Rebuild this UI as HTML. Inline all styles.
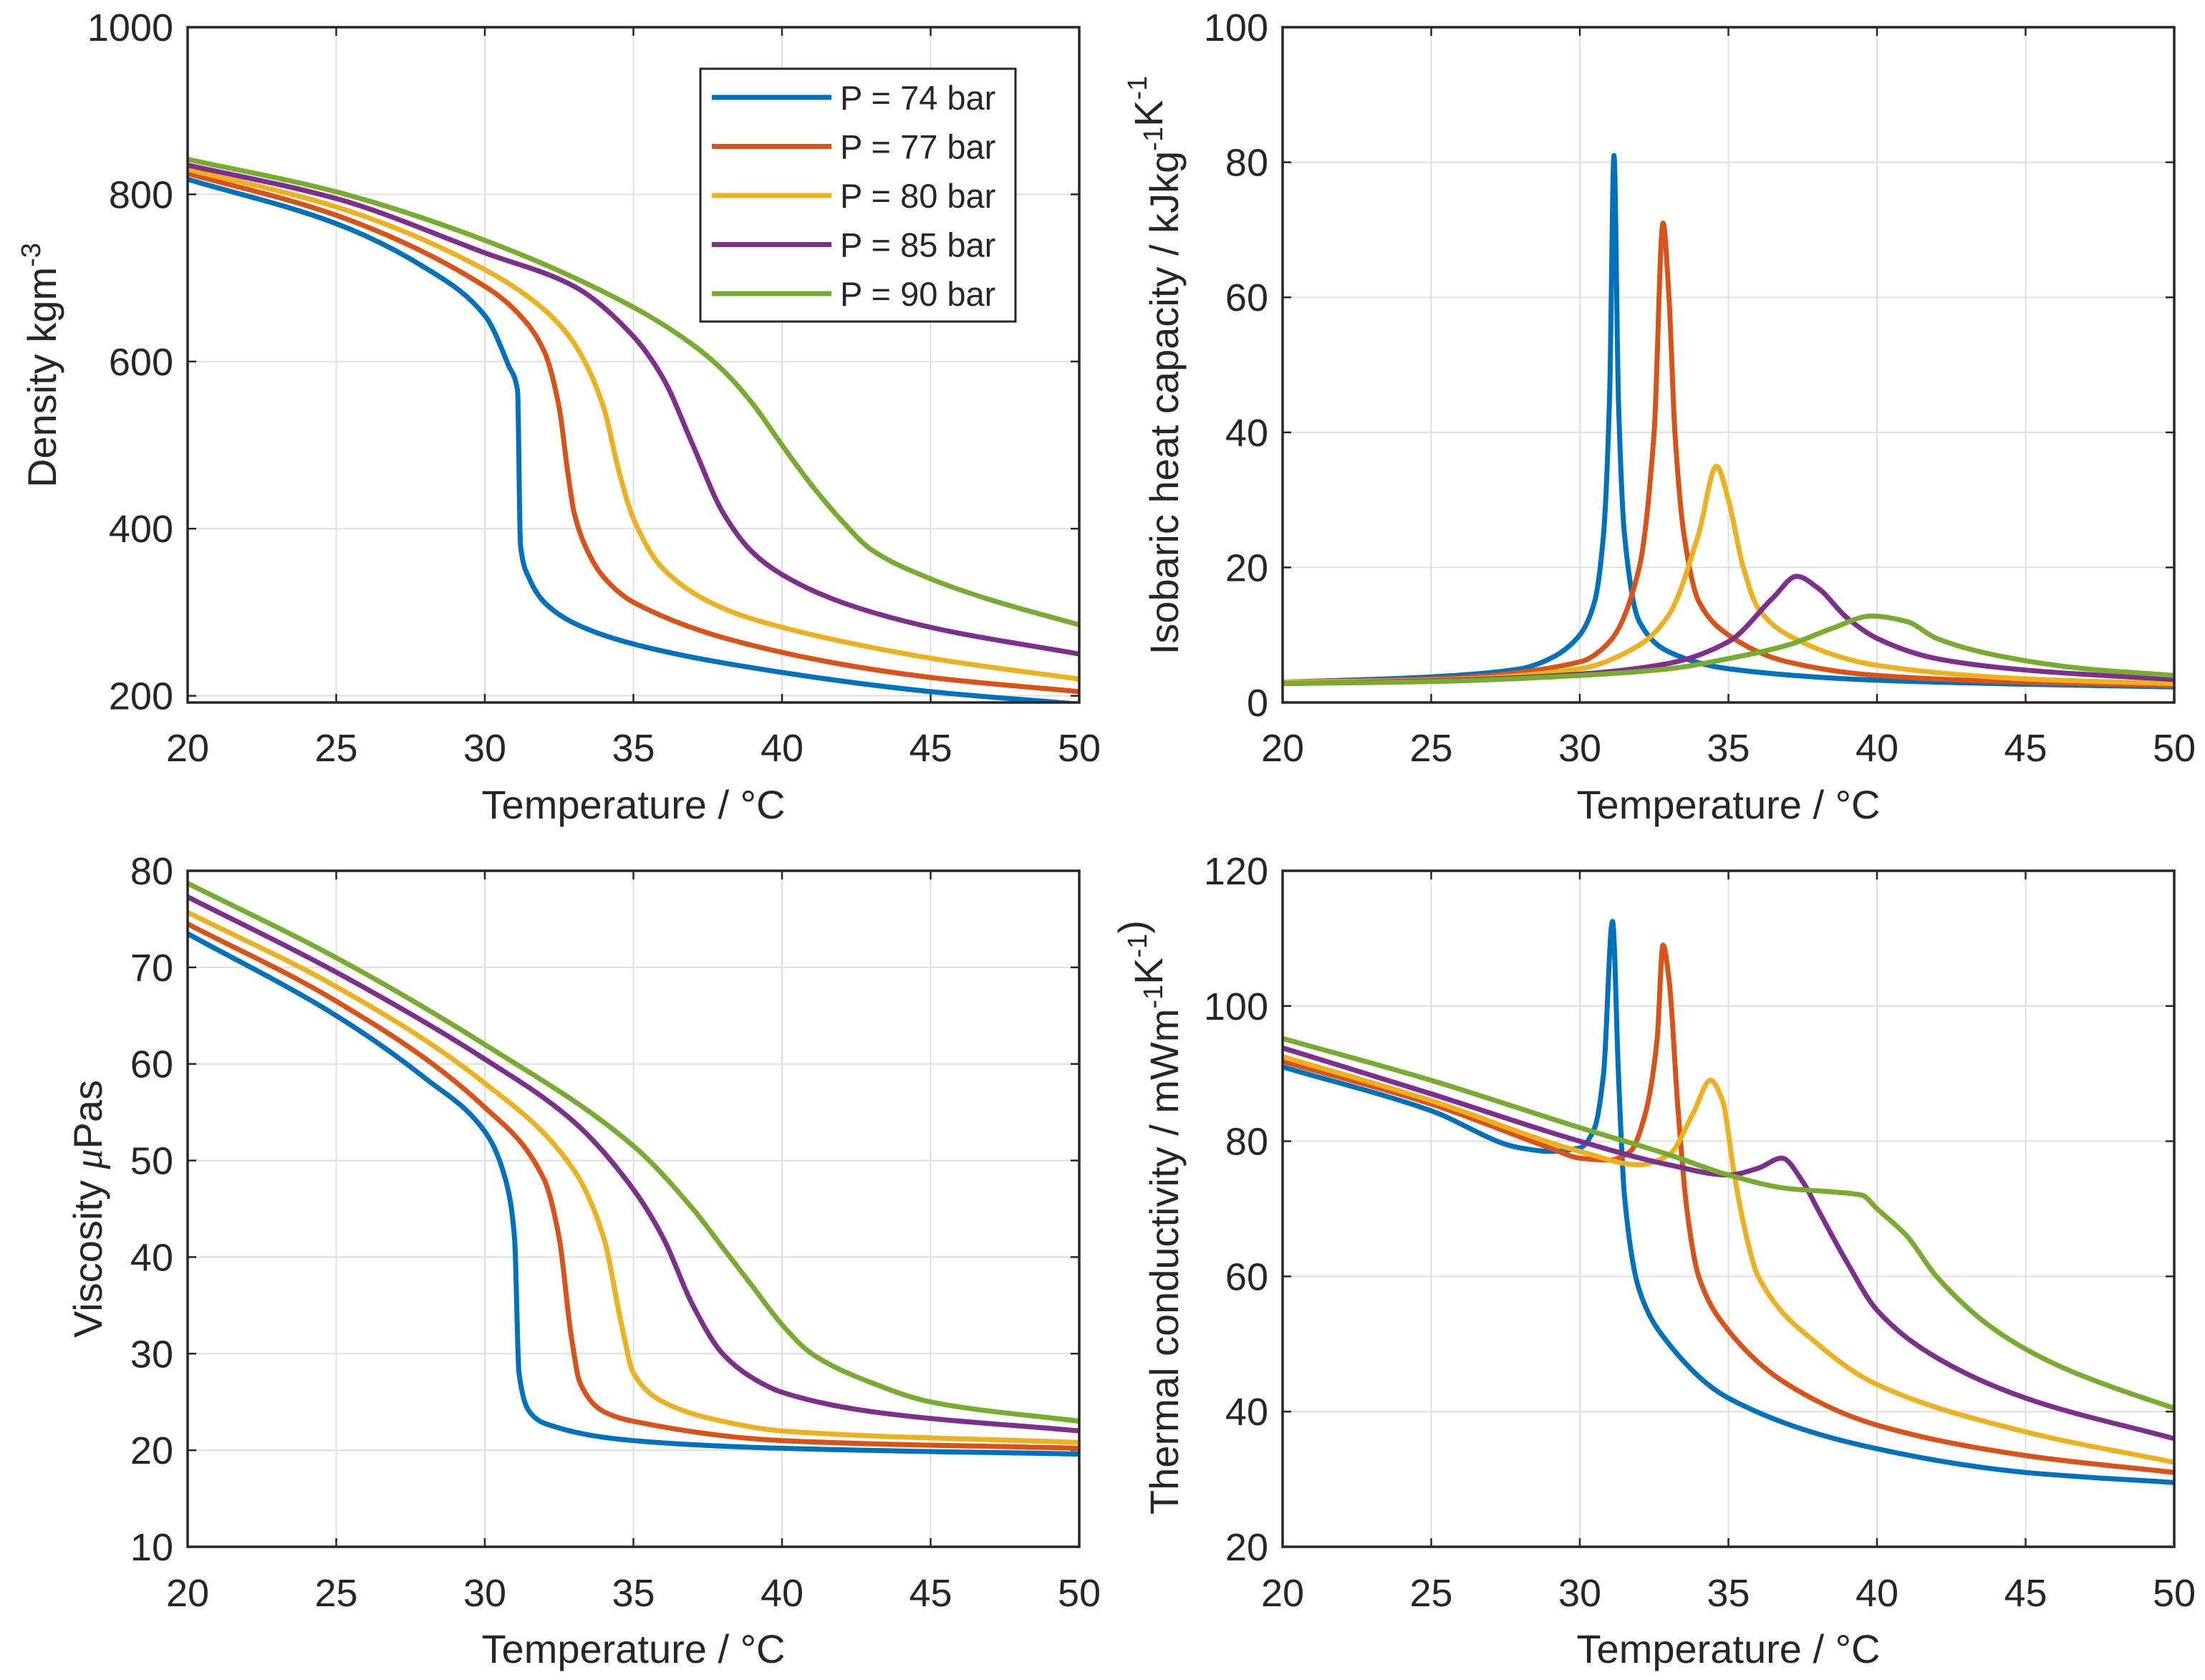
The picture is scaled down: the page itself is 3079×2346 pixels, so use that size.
<!DOCTYPE html>
<html><head><meta charset="utf-8"><style>
html,body{margin:0;padding:0;background:#fff}
svg{display:block}
text{font-family:"Liberation Sans",sans-serif;fill:#262626}
</style></head><body>
<svg id="fig" width="3079" height="2346" viewBox="0 0 3079 2346" xmlns="http://www.w3.org/2000/svg"></svg>
<script>
const seriesNames = ["P = 74 bar","P = 77 bar","P = 80 bar","P = 85 bar","P = 90 bar"];
const seriesColors = ["#0072BD","#D95319","#EDB120","#7E2F8E","#77AC30"];
const xTicks = [20,25,30,35,40,45,50];

const densT74 = [20,25,28,30,30.8,31.1,31.2,31.5,32,33,35,40,45,50];
const densV74 = [818,765,712,655,595,565,380,340,312,287,262,228,205,190];
const densT77 = [20,25,30,31,32,32.5,32.8,33,33.5,34,35,40,45,50];
const densV77 = [825,775,690,662,612,545,465,420,370,342,312,252,222,205];
const densT80 = [20,25,30,32,33,34,34.5,35,36,38,40,45,50];
const densV80 = [830,785,710,662,622,545,470,412,352,305,282,245,220];
const densT85 = [20,25,30,33,35,36,37,38,39,40,42,45,50];
const densV85 = [835,795,730,690,630,580,500,420,372,345,312,282,250];
const densT90 = [20,25,30,35,37,38,39,40,41,42,43,45,47,50];
const densV90 = [842,803,745,665,620,590,550,500,452,410,375,340,315,285];

const cpT74 = [20,25,28,29,30,30.5,30.8,31,31.15,31.3,31.5,32,33,35,40,45,50];
const cpV74 = [3,3.8,5,6.5,10,15,25,45,81,45,25,12,7.5,5,3.3,2.7,2.3];
const cpT77 = [20,25,30,31,32,32.5,32.8,33,33.2,33.5,34,35,37,40,45,50];
const cpV77 = [3,3.5,6,9,20,40,71,60,40,25,15,10,6,4,3,2.5];
const cpT80 = [20,25,30,32,33,34,34.6,35,35.5,36,37,40,45,50];
const cpV80 = [3,3.3,5,8.5,13,25,35,30,20,14,10,5.5,3.5,2.8];
const cpT85 = [20,25,30,33,35,36.5,37.3,38,39,40,42,45,50];
const cpV85 = [2.8,3.2,4.2,5.8,9,15.5,18.7,17,12.5,9.5,6.5,4.8,3.4];
const cpT90 = [20,25,30,33,35,37,38.5,39.8,41,42,44,47,50];
const cpV90 = [2.8,3.1,4,5,6.5,8.5,11,12.8,12,9.5,7,5,4];

const visT74 = [20,25,28,30,30.7,31,31.15,31.5,32,35,40,50];
const visV74 = [73.5,65,58.5,53,48,42,28,24,22.8,21,20.2,19.6];
const visT77 = [20,25,30,32,32.5,32.9,33.2,34,35,40,50];
const visV77 = [74.5,66.5,55.5,48,42,32,27,24,23,21,20.2];
const visT80 = [20,25,30,33,34,34.6,35,36,38,40,50];
const visV80 = [75.7,68,58,49,42,33,28,25,23,22,20.8];
const visT85 = [20,25,30,33,35,36,37,38,39,40,43,50];
const visV85 = [77.3,69.5,60.5,54,47,42,35,30,27.5,26,24,22];
const visT90 = [20,25,30,35,37,38,39,40,41,43,45,50];
const visV90 = [78.7,71,62,51.5,45,41,37,33,30,27,25,23];

const tcT74 = [20,25,28,29,30,30.5,30.8,31.1,31.3,31.5,32,33,35,40,45,50];
const tcV74 = [91,84.5,79,78.5,79,82,90,112.5,90,72,58,50,42,34.5,31,29.5];
const tcT77 = [20,25,29,30,31,31.7,32.2,32.6,32.8,33,33.3,33.6,34,35,37,40,45,50];
const tcV77 = [91.8,85.5,79,77.5,77.2,78.5,84,95,109,104,85,70,60,52,44,38,33.5,31];
const tcT80 = [20,25,30,32,33,33.8,34.4,34.8,35.2,35.6,36,38,40,45,50];
const tcV80 = [92.5,86,78.5,76.5,78,84,89,86,75,66,60,50,44,37,32.5];
const tcT85 = [20,25,30,33,35,36,36.8,37.5,38,39,40,42,45,50];
const tcV85 = [93.8,87,80,76.5,75,76,77.5,74,70,62,55,48,42,36];
const tcT90 = [20,25,30,33,35,37,38.5,39.5,40,41,42,44,46,48,50];
const tcV90 = [95.2,89,82,78,75,73,72.5,72,70,66,60,52,47,43.5,40.5];

const densTicks = [200,400,600,800,1000];
const cpTicks = [0,20,40,60,80,100];
const visTicks = [10,20,30,40,50,60,70,80];
const tcTicks = [20,40,60,80,100,120];

const NS = "http://www.w3.org/2000/svg";
const svg = document.getElementById('fig');
function mk(tag, attrs, parent){
  const e = document.createElementNS(NS, tag);
  for (const k in attrs) e.setAttribute(k, attrs[k]);
  (parent||svg).appendChild(e);
  return e;
}
function monoPath(px, py){
  const n = px.length;
  const d = [], m = new Array(n);
  for (let i=0;i<n-1;i++) d.push((py[i+1]-py[i])/(px[i+1]-px[i]));
  m[0]=d[0]; m[n-1]=d[n-2];
  for (let i=1;i<n-1;i++){
    if (d[i-1]*d[i] <= 0) m[i]=0;
    else { const w1=2*(px[i+1]-px[i])+(px[i]-px[i-1]), w2=(px[i+1]-px[i])+2*(px[i]-px[i-1]);
      m[i]=(w1+w2)/(w1/d[i-1]+w2/d[i]); }
  }
  let s = "M"+px[0].toFixed(1)+","+py[0].toFixed(1);
  for (let i=0;i<n-1;i++){
    const h=(px[i+1]-px[i])/3;
    s += " C"+(px[i]+h).toFixed(1)+","+(py[i]+m[i]*h).toFixed(1)+" "+(px[i+1]-h).toFixed(1)+","+(py[i+1]-m[i+1]*h).toFixed(1)+" "+px[i+1].toFixed(1)+","+py[i+1].toFixed(1);
  }
  return s;
}
function panel(cfg){
  const g = mk('g', {});
  
  
  const L=cfg.x0, R=cfg.x1, T=cfg.y0, B=cfg.y1;
  const sx = v => L + (v-20)/(50-20)*(R-L);
  const sy = v => B - (v-cfg.ymin)/(cfg.ymax-cfg.ymin)*(B-T);
  mk('rect',{x:L,y:T,width:R-L,height:B-T,fill:'#fff'},g);
  const grid = mk('g',{},g);
  
  
  xTicks.forEach(t=>{
    mk('line',{x1:sx(t),x2:sx(t),y1:T,y2:B,stroke:'#dfdfdf','stroke-width':2},grid);
    mk('line',{x1:sx(t),x2:sx(t),y1:B,y2:B-12,stroke:'#262626','stroke-width':2.5},g);
    mk('line',{x1:sx(t),x2:sx(t),y1:T,y2:T+12,stroke:'#262626','stroke-width':2.5},g);
    const tx = mk('text',{x:sx(t),y:cfg.xTickY,'font-size':54,'text-anchor':'middle'},g);
    
    
    tx.textContent = t;
  });
  cfg.yTicks.forEach(t=>{
    mk('line',{x1:L,x2:R,y1:sy(t),y2:sy(t),stroke:'#dfdfdf','stroke-width':2},grid);
    mk('line',{x1:L,x2:L+12,y1:sy(t),y2:sy(t),stroke:'#262626','stroke-width':2.5},g);
    mk('line',{x1:R,x2:R-12,y1:sy(t),y2:sy(t),stroke:'#262626','stroke-width':2.5},g);
    const ty = mk('text',{x:L-20,y:sy(t)+19,'font-size':54,'text-anchor':'end'},g);
    
    
    ty.textContent = t;
  });
  const clipId = cfg.name+'-clip';
  const cp = mk('clipPath',{id:clipId},g);
  mk('rect',{x:L,y:T,width:R-L,height:B-T},cp);
  cfg.series.forEach((s,i)=>{
    const p = mk('path',{d:monoPath(s[0].map(sx), s[1].map(sy)),fill:'none',stroke:seriesColors[i],'stroke-width':7,'stroke-linejoin':'round','clip-path':'url(#'+clipId+')'},g);
    
    
  });
  mk('rect',{x:L,y:T,width:R-L,height:B-T,fill:'none',stroke:'#262626','stroke-width':3.5},g);
  const xl = mk('text',{x:(L+R)/2,y:cfg.xLabelY,'font-size':56,'text-anchor':'middle'},g);
  
  
  xl.textContent = 'Temperature / °C';
  const yl = mk('text',{x:0,y:0,'font-size':56,'text-anchor':'middle',transform:'translate('+cfg.yLabelX+','+cfg.yLabelY+') rotate(-90)'},g);
  
  
  yl.innerHTML = cfg.yLabel;
  return {sx,sy};
}
const sup = s => '<tspan font-size="38" dy="-22">'+s+'</tspan><tspan dy="22"></tspan>';
const col1=[262,1507], col2=[1791,3036], row1=[38,981], row2=[1216,2160];
panel({name:'density-panel',x0:col1[0],x1:col1[1],y0:row1[0],y1:row1[1],ymin:192,ymax:1000,yTicks:densTicks,
  series:[[densT74,densV74],[densT77,densV77],[densT80,densV80],[densT85,densV85],[densT90,densV90]],
  xTickY:1063,xLabelY:1143,yLabelX:78,yLabelY:510,yLabel:'Density kgm'+sup('-3')});
panel({name:'heat-capacity-panel',x0:col2[0],x1:col2[1],y0:row1[0],y1:row1[1],ymin:0,ymax:100,yTicks:cpTicks,
  series:[[cpT74,cpV74],[cpT77,cpV77],[cpT80,cpV80],[cpT85,cpV85],[cpT90,cpV90]],
  xTickY:1063,xLabelY:1143,yLabelX:1645,yLabelY:510,yLabel:'Isobaric heat capacity / kJkg'+sup('-1')+'K'+sup('-1')});
panel({name:'viscosity-panel',x0:col1[0],x1:col1[1],y0:row2[0],y1:row2[1],ymin:10,ymax:80,yTicks:visTicks,
  series:[[visT74,visV74],[visT77,visV77],[visT80,visV80],[visT85,visV85],[visT90,visV90]],
  xTickY:2243,xLabelY:2322,yLabelX:142,yLabelY:1688,yLabel:'Viscosity <tspan font-family="Liberation Serif" font-style="italic">μ</tspan>Pas'});
panel({name:'thermal-conductivity-panel',x0:col2[0],x1:col2[1],y0:row2[0],y1:row2[1],ymin:20,ymax:120,yTicks:tcTicks,
  series:[[tcT74,tcV74],[tcT77,tcV77],[tcT80,tcV80],[tcT85,tcV85],[tcT90,tcV90]],
  xTickY:2243,xLabelY:2322,yLabelX:1645,yLabelY:1700,yLabel:'Thermal conductivity / mWm'+sup('-1')+'K'+sup('-1')+')'});

// legend
const lg = mk('g',{});


mk('rect',{x:978,y:96,width:440,height:353,fill:'#fff',stroke:'#262626','stroke-width':3},lg);
seriesNames.forEach((nm,i)=>{
  const cy = 136 + i*68.5;
  const e = mk('g',{},lg);
  
  
  mk('line',{x1:994,x2:1161,y1:cy,y2:cy,stroke:seriesColors[i],'stroke-width':7},e);
  const t = mk('text',{x:1173,y:cy+17,'font-size':47},e);
  t.textContent = nm;
});
</script>
</body></html>
